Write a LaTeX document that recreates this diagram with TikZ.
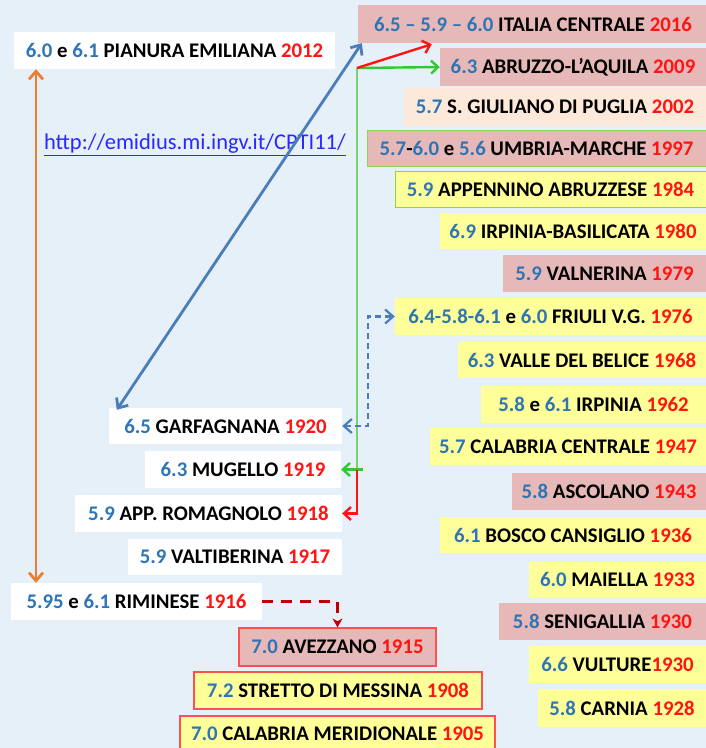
\documentclass[tikz,border=0pt]{standalone}
\usepackage{fontspec}
\setmainfont{Carlito}
\usetikzlibrary{arrows.meta}
\definecolor{bg}{RGB}{230,240,248}
\definecolor{pinkf}{RGB}{230,184,183}
\definecolor{yelf}{RGB}{255,255,153}
\definecolor{peachf}{RGB}{253,233,217}
\definecolor{magb}{RGB}{46,117,182}
\definecolor{yrr}{RGB}{255,20,20}
\definecolor{grb}{RGB}{146,208,80}
\definecolor{redb}{RGB}{255,80,80}
\definecolor{orng}{RGB}{237,125,49}
\definecolor{steel}{RGB}{74,126,187}
\definecolor{grn}{RGB}{50,200,50}
\definecolor{grnl}{RGB}{120,210,110}
\definecolor{dred}{RGB}{192,0,0}
\definecolor{urlb}{RGB}{40,40,255}
\newcommand\mg[1]{\textcolor{magb}{#1}}
\newcommand\yr[1]{\textcolor{yrr}{#1}}
\begin{document}
\begin{tikzpicture}[x=1pt,y=-1pt,
  box/.style={inner sep=0pt, font=\fontsize{20.8}{24}\selectfont\bfseries, text=black},
  pk/.style={box, fill=pinkf},
  yl/.style={box, fill=yelf},
  wh/.style={box, fill=white},
  pe/.style={box, fill=peachf},
  gb/.style={draw=grb, line width=1pt},
  rb/.style={draw=redb, line width=1.2pt},
  tip/.style={-{Straight Barb[length=7pt,width=13pt]}},
  dtip/.style={{Straight Barb[length=8pt,width=14pt]}-{Straight Barb[length=8pt,width=14pt]}},
]
\useasboundingbox (0,0) rectangle (706,748);
\fill[bg] (0,0) rectangle (706,748);

% right column
\node[pk, minimum width=350, minimum height=38] (r1) at (533,24) {\mg{6.5 – 5.9 – 6.0} ITALIA CENTRALE \yr{2016}};
\node[pk, minimum width=266, minimum height=38] (r2) at (573,67) {\mg{6.3} ABRUZZO-L’AQUILA \yr{2009}};
\node[pe, minimum width=302, minimum height=38] (r3) at (555,107) {\mg{5.7} S. GIULIANO DI PUGLIA \yr{2002}};
\node[pk, gb, minimum width=339, minimum height=36] (r4) at (536.5,148) {\mg{5.7}-\mg{6.0} e \mg{5.6} UMBRIA-MARCHE \yr{1997}};
\node[yl, gb, minimum width=311, minimum height=36] (r5) at (550.5,189) {\mg{5.9} APPENNINO ABRUZZESE \yr{1984}};
\node[yl, minimum width=266, minimum height=36] (r6) at (573,231) {\mg{6.9} IRPINIA-BASILICATA \yr{1980}};
\node[pk, minimum width=203, minimum height=37] (r7) at (604.5,273.5) {\mg{5.9} VALNERINA \yr{1979}};
\node[yl, minimum width=311, minimum height=37] (r8) at (550.5,316.5) {\mg{6.4-5.8-6.1} e \mg{6.0} FRIULI V.G. \yr{1976}};
\node[yl, minimum width=248, minimum height=36] (r9) at (582,360) {\mg{6.3} VALLE DEL BELICE \yr{1968}};
\node[yl, minimum width=225, minimum height=37] (r10) at (593.5,404.5) {\mg{5.8} e \mg{6.1} IRPINIA \yr{1962}};
\node[yl, minimum width=276, minimum height=37] (r11) at (568,446.5) {\mg{5.7} CALABRIA CENTRALE \yr{1947}};
\node[pk, minimum width=194, minimum height=37] (r12) at (609,491.5) {\mg{5.8} ASCOLANO \yr{1943}};
\node[yl, minimum width=266, minimum height=36] (r13) at (573,535) {\mg{6.1} BOSCO CANSIGLIO \yr{1936}};
\node[yl, minimum width=177, minimum height=35] (r14) at (617.5,579.5) {\mg{6.0} MAIELLA \yr{1933}};
\node[pk, minimum width=207, minimum height=37] (r15) at (602.5,621.5) {\mg{5.8} SENIGALLIA \yr{1930}};
\node[yl, minimum width=177, minimum height=38] (r16) at (617.5,664) {\mg{6.6} VULTURE\yr{1930}};
\node[yl, minimum width=168, minimum height=38] (r17) at (622,708) {\mg{5.8} CARNIA \yr{1928}};

% left column
\node[wh, minimum width=321, minimum height=37] (l1) at (174.5,50.5) {\mg{6.0} e \mg{6.1} PIANURA EMILIANA \yr{2012}};
\node[wh, minimum width=233, minimum height=36] (l2) at (225.5,426) {\mg{6.5} GARFAGNANA \yr{1920}};
\node[wh, minimum width=196, minimum height=37] (l3) at (243,469.5) {\mg{6.3} MUGELLO \yr{1919}};
\node[wh, minimum width=267, minimum height=37] (l4) at (208.5,513.5) {\mg{5.9} APP. ROMAGNOLO \yr{1918}};
\node[wh, minimum width=214, minimum height=36] (l5) at (235,557) {\mg{5.9} VALTIBERINA \yr{1917}};
\node[wh, minimum width=251, minimum height=37] (l6) at (136.5,601.5) {\mg{5.95} e \mg{6.1} RIMINESE \yr{1916}};

% bottom
\node[pk, rb, minimum width=197, minimum height=38] (b1) at (337.5,647) {\mg{7.0} AVEZZANO \yr{1915}};
\node[yl, rb, minimum width=288, minimum height=37] (b2) at (338,690.5) {\mg{7.2} STRETTO DI MESSINA \yr{1908}};
\node[yl, rb, minimum width=315, minimum height=36] (b3) at (337.5,734) {\mg{7.0} CALABRIA MERIDIONALE \yr{1905}};

% url
\node[inner sep=0pt, text=urlb, font=\fontsize{22.5}{26}\selectfont] (url) at (195,145) {\underline{http://emidius.mi.ingv.it/CPTI11/}};

% connectors
\coordinate (ox) at (36,0);
\coordinate (j) at (357,68);
\coordinate (dx) at (368,0);

\draw[orng, line width=2.8pt, dtip] (l1.south -| ox) -- (l6.north -| ox);
\draw[steel, line width=2.8pt, dtip] ([xshift=8pt,yshift=-2pt]l2.north west) -- ([xshift=4pt]r1.south west);
\draw[grnl, line width=1.8pt] (j) -- (j |- l3.east);
\draw[grn, line width=2.4pt, tip] ([xshift=6pt]j |- l3.east) -- (l3.east);
\draw[grn, line width=2.4pt, tip] (j) -- (r2.west);
\draw[yrr, line width=2.4pt, tip] (j) -- ([xshift=74pt,yshift=-1pt]r1.south west);
\draw[yrr, line width=2.4pt, tip] (j |- l3.east) |- (l4.east);
\draw[steel, line width=2.2pt, dash pattern=on 6pt off 4pt, dtip] (l2.east) -- (l2.east -| dx) -- (dx |- r8.west) -- (r8.west);
\draw[dred, line width=2.4pt, dash pattern=on 11pt off 8pt, -{Stealth[length=9pt,width=10pt]}] (l6.east) -| (b1.north);
\end{tikzpicture}
\end{document}
